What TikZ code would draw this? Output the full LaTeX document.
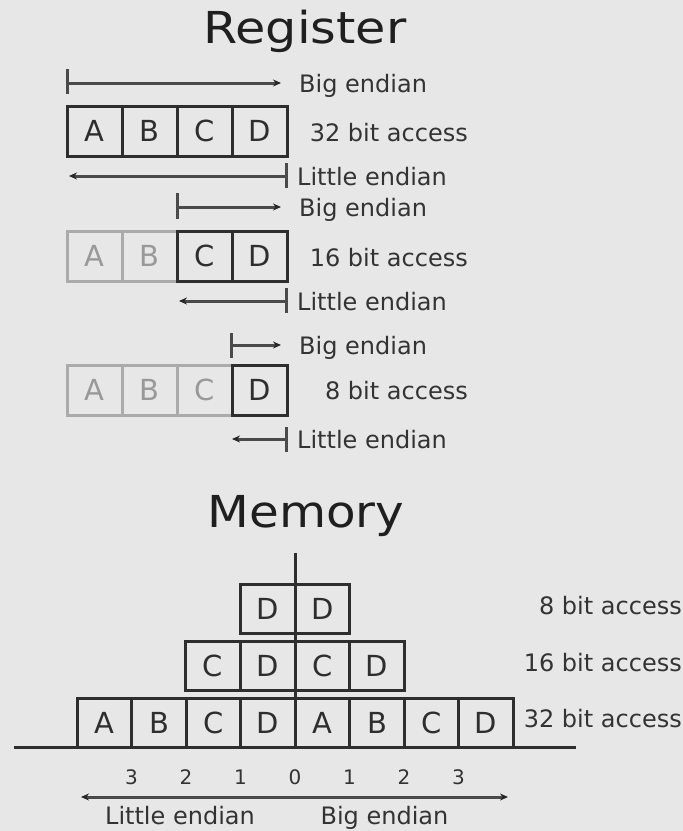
\documentclass[tikz,border=0pt]{standalone}
\usepackage{graphicx}
\usepackage{fontspec}
\setmainfont{DejaVu Sans}
\usetikzlibrary{arrows.meta}
\definecolor{bg}{HTML}{E7E7E7}
\definecolor{ink}{HTML}{2E2E2E}
\definecolor{faint}{HTML}{ABABAB}
\definecolor{faintink}{HTML}{999999}
\definecolor{arr}{HTML}{4A4A4A}
\definecolor{txt}{HTML}{333333}
\begin{document}
\begin{tikzpicture}[x=1pt,y=-1pt,
  cell/.style={draw=ink,line width=3pt,minimum width=55pt,minimum height=50pt,inner sep=0pt,text=ink,font=\fontsize{29}{29}\selectfont},
  fcell/.style={cell,draw=faint,text=faintink},
  mcell/.style={draw=ink,line width=3pt,minimum width=54.5pt,minimum height=49pt,inner sep=0pt,text=ink,font=\fontsize{29}{29}\selectfont},
  lbl/.style={inner sep=0pt,text=txt,font=\fontsize{24}{28}\selectfont},
  num/.style={inner sep=0pt,text=txt,font=\fontsize{20}{22}\selectfont},
  title/.style={inner sep=0pt,text=black!88,font=\fontsize{44}{48}\selectfont},
  arrowline/.style={draw=arr,line width=3pt,-{Stealth[length=8pt,width=7pt,color=black!85]}},
  tickline/.style={draw=arr,line width=3pt},
  axis/.style={draw=ink,line width=3pt}]
\fill[bg] (0,0) rectangle (683,831);
\useasboundingbox (0,0) rectangle (683,831);

% ---------- Register ----------
\node[title,anchor=base] (regt) at (305,43) {\scalebox{1.12}[1]{Register}};

% row 1 (32 bit)
\coordinate (b1s) at (67,83); \coordinate (b1e) at (281,83);
\coordinate (b1t1) at (67,69); \coordinate (b1t2) at (67,94);
\draw[tickline] (b1t1) -- (b1t2);
\draw[arrowline] (b1s) -- (b1e);
\node[lbl,anchor=base west] (b1l) at (299,92) {Big endian};
\node[cell] (r1A) at (94.5,131) {A};
\node[cell] (r1B) at (149.5,131) {B};
\node[cell] (r1C) at (204.5,131) {C};
\node[cell] (r1D) at (259.5,131) {D};
\node[lbl,anchor=base east] (r1l) at (468,141) {32 bit access};
\coordinate (l1s) at (286,176); \coordinate (l1e) at (69,176);
\coordinate (l1t1) at (286,163); \coordinate (l1t2) at (286,188);
\draw[tickline] (l1t1) -- (l1t2);
\draw[arrowline] (l1s) -- (l1e);
\node[lbl,anchor=base west] (l1l) at (297,185) {Little endian};

% row 2 (16 bit)
\coordinate (b2s) at (177,207); \coordinate (b2e) at (281,207);
\coordinate (b2t1) at (177,193); \coordinate (b2t2) at (177,219);
\draw[tickline] (b2t1) -- (b2t2);
\draw[arrowline] (b2s) -- (b2e);
\node[lbl,anchor=base west] (b2l) at (299,216) {Big endian};
\node[fcell] (r2A) at (94.5,256) {A};
\node[fcell] (r2B) at (149.5,256) {B};
\node[cell] (r2C) at (204.5,256) {C};
\node[cell] (r2D) at (259.5,256) {D};
\node[lbl,anchor=base east] (r2l) at (468,266) {16 bit access};
\coordinate (l2s) at (286,301); \coordinate (l2e) at (179,301);
\coordinate (l2t1) at (286,288); \coordinate (l2t2) at (286,313);
\draw[tickline] (l2t1) -- (l2t2);
\draw[arrowline] (l2s) -- (l2e);
\node[lbl,anchor=base west] (l2l) at (297,310) {Little endian};

% row 3 (8 bit)
\coordinate (b3s) at (231,345); \coordinate (b3e) at (281,345);
\coordinate (b3t1) at (231,333); \coordinate (b3t2) at (231,358);
\draw[tickline] (b3t1) -- (b3t2);
\draw[arrowline] (b3s) -- (b3e);
\node[lbl,anchor=base west] (b3l) at (299,354) {Big endian};
\node[fcell] (r3A) at (94.5,390) {A};
\node[fcell] (r3B) at (149.5,390) {B};
\node[fcell] (r3C) at (204.5,390) {C};
\node[cell] (r3D) at (259.5,390) {D};
\node[lbl,anchor=base east] (r3l) at (468,399) {8 bit access};
\coordinate (l3s) at (286,439); \coordinate (l3e) at (232,439);
\coordinate (l3t1) at (286,427); \coordinate (l3t2) at (286,452);
\draw[tickline] (l3t1) -- (l3t2);
\draw[arrowline] (l3s) -- (l3e);
\node[lbl,anchor=base west] (l3l) at (297,448) {Little endian};

% ---------- Memory ----------
\node[title,anchor=base] (memt) at (306,527) {\scalebox{1.1}[1]{Memory}};

% top row (8 bit)
\node[mcell] (m8a) at (268,609) {D};
\node[mcell] (m8b) at (322.5,609) {D};
% middle row (16 bit)
\node[mcell] (m16a) at (213,666) {C};
\node[mcell] (m16b) at (268,666) {D};
\node[mcell] (m16c) at (322.5,666) {C};
\node[mcell] (m16d) at (377,666) {D};
% bottom row (32 bit)
\node[mcell] (m32a) at (104.5,722.5) {A};
\node[mcell] (m32b) at (159,722.5) {B};
\node[mcell] (m32c) at (213.5,722.5) {C};
\node[mcell] (m32d) at (268,722.5) {D};
\node[mcell] (m32e) at (322.5,722.5) {A};
\node[mcell] (m32f) at (377,722.5) {B};
\node[mcell] (m32g) at (431.5,722.5) {C};
\node[mcell] (m32h) at (486,722.5) {D};

% axes
\coordinate (vtop) at (295,553); \coordinate (vbot) at (295,747);
\draw[axis] (vtop) -- (vbot);
\coordinate (hl) at (14,747); \coordinate (hr) at (576,747);
\draw[axis] (hl) -- (hr);

\node[lbl,anchor=base east] (m8l) at (682,614) {8 bit access};
\node[lbl,anchor=base east] (m16l) at (682,671) {16 bit access};
\node[lbl,anchor=base east] (m32l) at (682,727) {32 bit access};

% offsets
\node[num] (n3l) at (131.5,777) {3};
\node[num] (n2l) at (186,777) {2};
\node[num] (n1l) at (240.5,777) {1};
\node[num] (n0) at (295,777) {0};
\node[num] (n1r) at (349.5,777) {1};
\node[num] (n2r) at (404,777) {2};
\node[num] (n3r) at (458.5,777) {3};

\coordinate (al) at (81,797); \coordinate (ar) at (508,797);
\draw[draw=arr,line width=3pt,{Stealth[length=8pt,width=7pt,color=black!85]}-{Stealth[length=8pt,width=7pt,color=black!85]}] (al) -- (ar);
\node[lbl,anchor=base] (le) at (180,824) {Little endian};
\node[lbl,anchor=base] (be) at (384.5,824) {Big endian};
\end{tikzpicture}
\end{document}
